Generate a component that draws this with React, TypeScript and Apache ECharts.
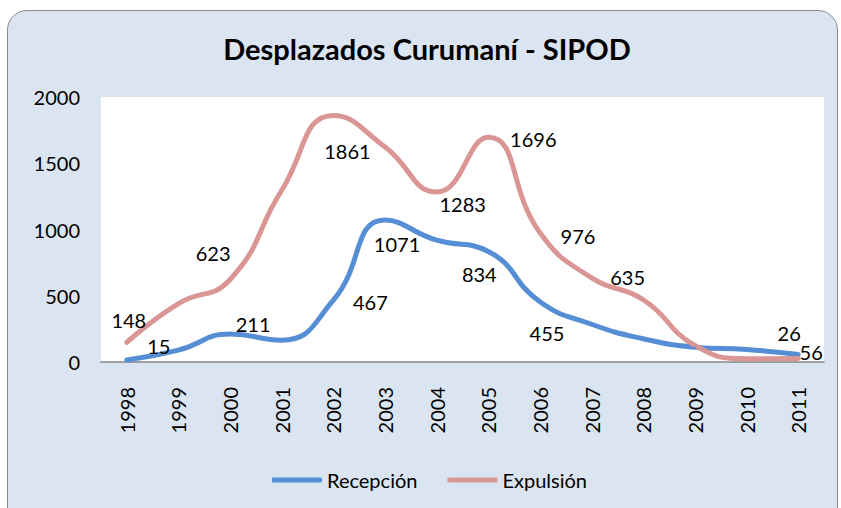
import React, { useEffect, useRef } from "react";
import * as echarts from "echarts";

const years = ["1998", "1999", "2000", "2001", "2002", "2003", "2004", "2005", "2006", "2007", "2008", "2009", "2010", "2011"];
const recepcion = [15, 90, 211, 165, 467, 1071, 919, 834, 455, 285, 175, 112, 95, 56];
const expulsion = [148, 441, 623, 1296, 1861, 1623, 1283, 1696, 976, 635, 470, 125, 25, 26];
const yTicks = [0, 500, 1000, 1500, 2000];

// label placement (style only): index -> [dx, dy] from point
const recepcionLabelOffsets: Record<number, [number, number]> = {
  0: [32, -14],
  2: [23, -10],
  4: [37, 2],
  5: [12, 24],
  7: [-9, 23],
  8: [7, 31],
  13: [13, -3],
};
const expulsionLabelOffsets: Record<number, [number, number]> = {
  0: [2, -22],
  2: [-17, -26],
  4: [14, 36],
  6: [26, 12],
  7: [45, 2],
  8: [38, 3],
  9: [36, -1],
  13: [-9, -26],
};

const FONT = "Lato, 'Open Sans', sans-serif";

function buildData(values: number[], offsets: Record<number, [number, number]>) {
  return values.map((v, i) => ({
    value: v,
    label: offsets[i] ? { show: true, offset: offsets[i] } : { show: false },
  }));
}

export default function App() {
  const ref = useRef<HTMLDivElement>(null);
  useEffect(() => {
    if (!ref.current) return;
    const chart = echarts.init(ref.current, undefined, { renderer: "svg" });
    const labelCommon = {
      position: "inside",
      color: "#000",
      fontFamily: FONT,
      fontSize: 20,
    };
    chart.setOption({
      animation: false,
      graphic: [
        {
          type: "text",
          x: 427,
          y: 48,
          style: {
            text: "Desplazados Curumaní - SIPOD",
            textAlign: "center",
            textVerticalAlign: "middle",
            fontFamily: FONT,
            fontWeight: "bold",
            fontSize: 29,
            fill: "#000",
          },
        },
      ],
      grid: {
        left: 101,
        top: 97,
        width: 723,
        height: 265,
        show: true,
        backgroundColor: "#ffffff",
        borderWidth: 0,
      },
      legend: {
        data: ["Recepción", "Expulsión"],
        left: 272,
        top: 470,
        padding: 0,
        icon: "roundRect",
        itemWidth: 50,
        itemHeight: 5,
        itemGap: 30,
        textStyle: { fontFamily: FONT, fontSize: 20, color: "#000" },
      },
      xAxis: {
        type: "category",
        data: years,
        boundaryGap: true,
        axisLine: { show: true, lineStyle: { color: "#868686", width: 1.5 } },
        axisTick: { show: false },
        axisLabel: {
          rotate: 90,
          margin: 25,
          fontFamily: FONT,
          fontSize: 20,
          color: "#000",
          interval: 0,
        },
      },
      yAxis: {
        type: "value",
        min: yTicks[0],
        max: yTicks[yTicks.length - 1],
        interval: yTicks[1] - yTicks[0],
        axisLine: { show: false },
        axisTick: { show: false },
        splitLine: { show: false },
        axisLabel: {
          margin: 21,
          fontFamily: FONT,
          fontSize: 20,
          color: "#000",
          formatter: (v: number) => String(v),
        },
      },
      series: [
        {
          name: "Recepción",
          type: "line",
          smooth: true,
          symbol: "circle",
          symbolSize: 2,
          showSymbol: true,
          itemStyle: { color: "#558ED5" },
          lineStyle: { color: "#558ED5", width: 5, cap: "round" },
          label: labelCommon,
          data: buildData(recepcion, recepcionLabelOffsets),
        },
        {
          name: "Expulsión",
          type: "line",
          smooth: true,
          symbol: "circle",
          symbolSize: 2,
          showSymbol: true,
          itemStyle: { color: "#D99694" },
          lineStyle: { color: "#D99694", width: 5, cap: "round" },
          label: labelCommon,
          data: buildData(expulsion, expulsionLabelOffsets),
        },
      ],
    });
    return () => chart.dispose();
  }, []);

  return (
    <div style={{ position: "fixed", left: 0, top: 0, width: 841, height: 508, background: "#fff", overflow: "hidden" }}>
      <div
        style={{
          position: "absolute",
          left: 7,
          top: 10,
          width: 831,
          height: 520,
          background: "#DBE5F1",
          border: "1.5px solid #8a8a8a",
          borderRadius: 20,
          boxSizing: "border-box",
        }}
      />
      <div ref={ref} style={{ position: "absolute", left: 0, top: 0, width: 841, height: 508 }} />
    </div>
  );
}
